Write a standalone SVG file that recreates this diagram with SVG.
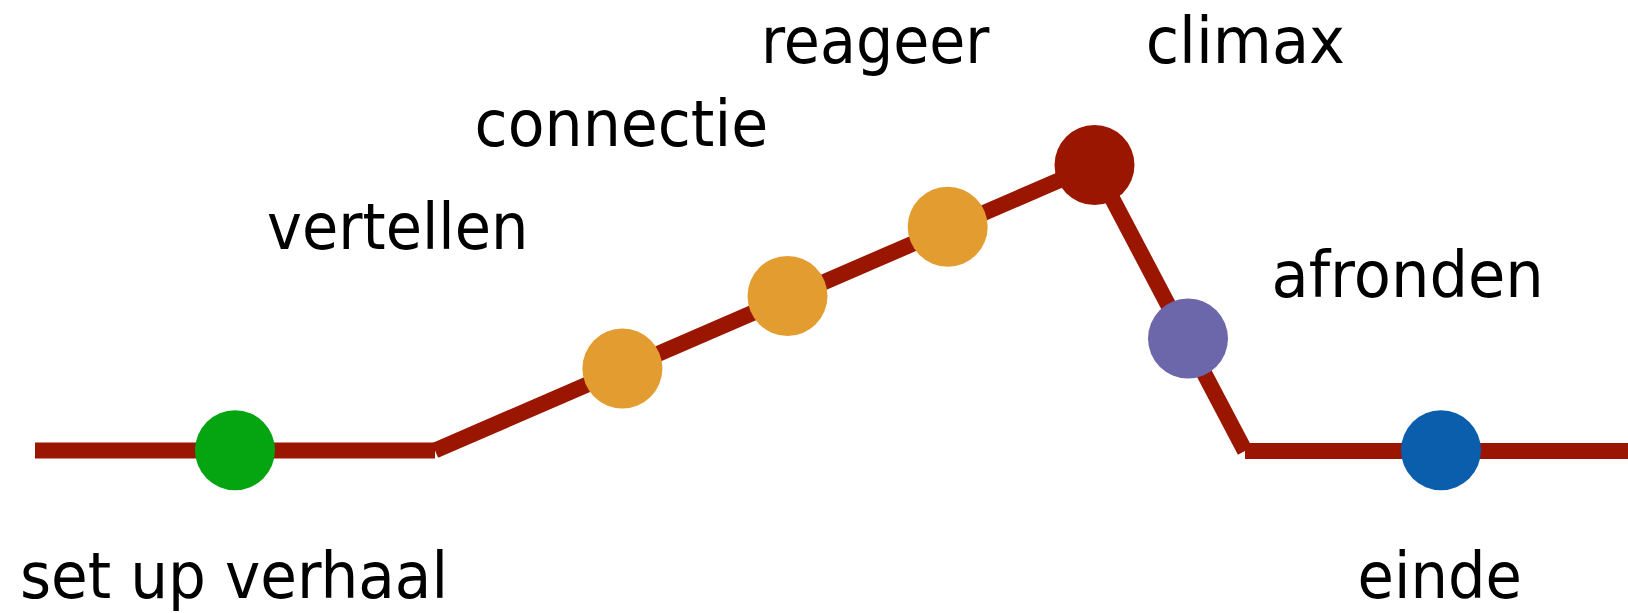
<svg xmlns="http://www.w3.org/2000/svg" width="1628" height="613" viewBox="0 0 1628 613">
<style>
.lbl{font-family:"DejaVu Sans","Liberation Sans",sans-serif;font-size:64px;fill:#000}
.seg{stroke:#9A1600;stroke-width:16;fill:none;stroke-linecap:butt}
</style>
<rect width="1628" height="613" fill="#fff"/>
<g id="connectors">
<line class="seg" x1="35" y1="450.5" x2="435" y2="450.5"/>
<line class="seg" x1="435" y1="450.5" x2="1094.5" y2="165"/>
<line class="seg" x1="1094.5" y1="165" x2="1245" y2="451"/>
<line class="seg" x1="1245" y1="451" x2="1628" y2="451"/>
</g>
<g id="setup"><circle cx="235" cy="450.3" r="40" fill="#05A512"/><text class="lbl" x="20" y="598" textLength="428" lengthAdjust="spacingAndGlyphs">set up verhaal</text></g>
<g id="vertellen"><circle cx="622.4" cy="368.5" r="40" fill="#E29C2F"/><text class="lbl" x="267" y="249.3" textLength="261.5" lengthAdjust="spacingAndGlyphs">vertellen</text></g>
<g id="connectie"><circle cx="787.5" cy="296" r="40" fill="#E29C2F"/><text class="lbl" x="474.6" y="145.7" textLength="293.6" lengthAdjust="spacingAndGlyphs">connectie</text></g>
<g id="reageer"><circle cx="947.7" cy="226.7" r="40" fill="#E29C2F"/><text class="lbl" x="761" y="63.3" textLength="228.5" lengthAdjust="spacingAndGlyphs">reageer</text></g>
<g id="climax"><circle cx="1094.5" cy="165" r="40" fill="#9A1600"/><text class="lbl" x="1145.7" y="62.7" textLength="199.3" lengthAdjust="spacingAndGlyphs">climax</text></g>
<g id="afronden"><circle cx="1188" cy="338.5" r="40" fill="#6C66AA"/><text class="lbl" x="1271.5" y="297.3" textLength="272.3" lengthAdjust="spacingAndGlyphs">afronden</text></g>
<g id="einde"><circle cx="1441" cy="450.3" r="40" fill="#0B5EAB"/><text class="lbl" x="1357.6" y="598.3" textLength="164.2" lengthAdjust="spacingAndGlyphs">einde</text></g>
</svg>
